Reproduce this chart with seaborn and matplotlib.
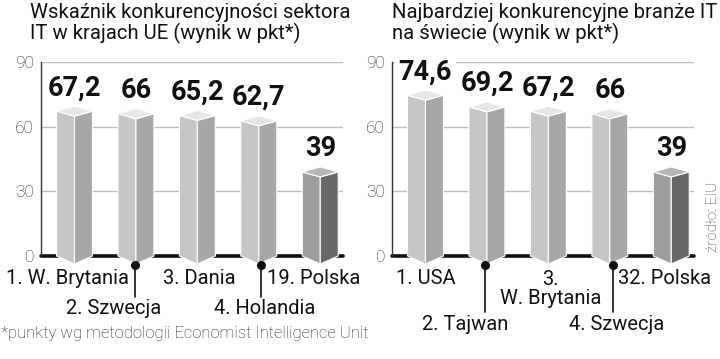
import matplotlib
matplotlib.use("Agg")
import matplotlib.pyplot as plt
from matplotlib.patches import Polygon
import seaborn as sns
import pandas as pd

# ---- data ----
eu_categories = ["1. W. Brytania", "2. Szwecja", "3. Dania", "4. Holandia", "19. Polska"]
eu_values = [67.2, 66, 65.2, 62.7, 39]
world_categories = ["1. USA", "2. Tajwan", "3.\nW. Brytania", "4. Szwecja", "32. Polska"]
world_values = [74.6, 69.2, 67.2, 66, 39]
y_ticks = [0, 30, 60, 90]
title_left = ["Wskaźnik konkurencyjności sektora", "IT w krajach UE (wynik w pkt*)"]
title_right = ["Najbardziej konkurencyjne branże IT", "na świecie (wynik w pkt*)"]
footnote = "*punkty wg metodologii Economist Intelligence Unit"
source = "źródło: EIU"

sns.set_theme(style="white")
plt.rcParams["font.family"] = ["Roboto", "DejaVu Sans"]

W, H = 720, 359
fig = plt.figure(figsize=(7.2, 3.59), dpi=100)

PX_PER_UNIT_Y = 194 / 90.0
PX_PER_UNIT_X = 61.6


def py(ypx):
    """pixel row (from top) -> data y"""
    return (256 - ypx) / PX_PER_UNIT_Y


NORMAL = ("#c6c6c6", "#a7a7a7", "#e6e6e6")
DARK = ("#9d9d9d", "#686868", "#b5b5b5")


def draw_panel(ax, cats, vals, label_dx, label_row, leaders, leader_end):
    df = pd.DataFrame({"cat": cats, "val": vals})
    sns.barplot(data=df, x="cat", y="val", ax=ax, width=0.585, color=NORMAL[0],
                saturation=1, errorbar=None)
    ax.set_xlim(-0.545, 4.37)
    ax.set_ylim(0, 90)
    d = 5 / PX_PER_UNIT_Y
    b = 8 / PX_PER_UNIT_Y
    n = len(vals)
    for i, p in enumerate(list(ax.patches)):
        x0 = p.get_x()
        w = p.get_width()
        v = p.get_height()
        x1 = x0 + w
        xm = x0 + w / 2
        p.set_visible(False)
        cols = DARK if i == n - 1 else NORMAL
        left = Polygon([(x0, 0), (x0, v), (xm, v - d), (xm, -b)], closed=True,
                       fc=cols[0], ec="white", lw=0.8, zorder=3, clip_on=False)
        right = Polygon([(xm, -b), (xm, v - d), (x1, v), (x1, 0)], closed=True,
                        fc=cols[1], ec="white", lw=0.8, zorder=3, clip_on=False)
        cap = Polygon([(x0, v), (xm, v + d), (x1, v), (xm, v - d)], closed=True,
                      fc=cols[2], ec="white", lw=0.8, zorder=4, clip_on=False)
        for poly in (left, right, cap):
            ax.add_patch(poly)
        txt = f"{v:g}".replace(".", ",")
        ax.text(xm, v + 7.4, txt, ha="center", va="baseline", fontsize=19.5,
                fontweight="bold", color="#111111", zorder=6,
                bbox=dict(fc="white", ec="none", pad=2.5))
        # category label
        ax.text(xm + label_dx[i] / PX_PER_UNIT_X, py(label_row[i]), cats[i],
                ha="center", va="center", fontsize=14.5, color="#111111",
                linespacing=1.05, clip_on=False)
        if leaders[i] is not None:
            lx = xm + leaders[i] / PX_PER_UNIT_X
            ax.plot([lx, lx], [py(265), py(leader_end)], color="#111111", lw=1.2,
                    clip_on=False, zorder=5)
            ax.plot([lx], [py(265)], "o", ms=5.5, color="#111111", clip_on=False,
                    zorder=5)

    ax.set_xlabel("")
    ax.set_ylabel("")
    ax.set_xticks([])
    ax.set_yticks(y_ticks)
    ax.set_yticklabels([str(t) for t in y_ticks])
    ax.tick_params(axis="y", length=0, pad=5, labelsize=12.5, labelcolor="#2a2a2a")
    for lab in ax.get_yticklabels():
        lab.set_fontweight("light")
    for t in y_ticks[1:]:
        ax.axhline(t, color="#bdbdbd", lw=1, zorder=0)
    ax.axhline(0, color="#111111", lw=2.6, zorder=1, clip_on=False)
    for s in ("top", "right", "bottom"):
        ax.spines[s].set_visible(False)
    ax.spines["left"].set_color("#333333")
    ax.spines["left"].set_linewidth(1)
    ax.spines["left"].set_zorder(2)
    ax.set_facecolor("none")


ax1 = fig.add_axes([41 / W, (H - 256) / H, (343 - 41) / W, 194 / H])
ax2 = fig.add_axes([392 / W, (H - 256) / H, (694 - 392) / W, 194 / H])

draw_panel(ax1, eu_categories, eu_values,
           label_dx=[-7.5, -22, 2, 6, -7],
           label_row=[278, 308, 278, 308, 278],
           leaders=[None, -1, None, 2, None], leader_end=297)
draw_panel(ax2, world_categories, world_values,
           label_dx=[0, -22, 2, 7, -7],
           label_row=[278, 325, 289, 325, 278],
           leaders=[None, -2, None, 3, None], leader_end=312)

for xpx, lines in ((30, title_left), (392, title_right)):
    fig.text(xpx / W, 1 - 18 / H, lines[0], ha="left", va="baseline",
             fontsize=14.6, color="#111111")
    fig.text(xpx / W, 1 - 39 / H, lines[1], ha="left", va="baseline",
             fontsize=14.6, color="#111111")

fig.text(1 / W, 1 - 338 / H, footnote, ha="left", va="baseline", fontsize=12,
         fontweight="light", color="#222222")
fig.text(713 / W, 1 - 252 / H, source, ha="center", va="bottom", rotation=90,
         fontsize=11, fontweight="light", color="#444444")

fig.savefig("out.png", dpi=100, facecolor="white")
